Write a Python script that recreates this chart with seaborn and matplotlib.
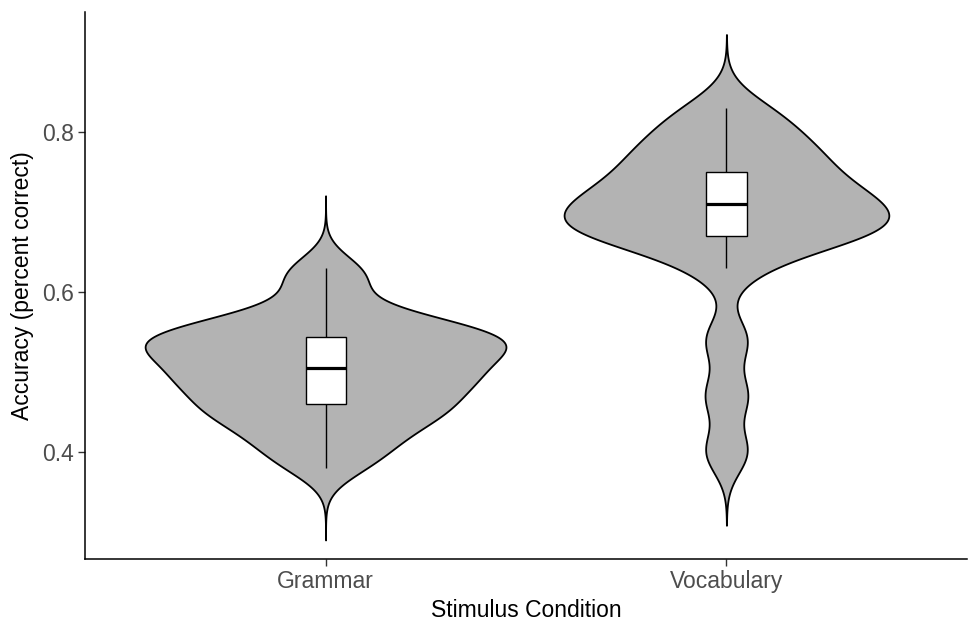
import numpy as np
import pandas as pd
import matplotlib
matplotlib.use("Agg")
import matplotlib.pyplot as plt
import seaborn as sns

# ---- data (accuracy, proportion correct) ----
conditions = ["Grammar", "Vocabulary"]
grammar_acc = [0.38, 0.40, 0.415, 0.43, 0.44, 0.45, 0.46, 0.46, 0.475, 0.485,
               0.49, 0.495, 0.50, 0.51, 0.52, 0.525, 0.53, 0.535, 0.54, 0.545,
               0.55, 0.555, 0.565, 0.575, 0.61, 0.63]
vocabulary_acc = [0.40, 0.47, 0.54, 0.63, 0.66, 0.67, 0.675, 0.68, 0.685, 0.69,
                  0.71, 0.71, 0.715, 0.725, 0.74, 0.75, 0.765, 0.775, 0.79, 0.81, 0.83]
y_ticks = [0.4, 0.6, 0.8]
y_tick_labels = ["0.4", "0.6", "0.8"]

df = pd.DataFrame({
    "condition": ["Grammar"] * len(grammar_acc) + ["Vocabulary"] * len(vocabulary_acc),
    "accuracy": grammar_acc + vocabulary_acc,
})

sns.set_theme(style="white")
plt.rcParams["font.family"] = ["Liberation Sans", "DejaVu Sans"]

# kernel sd, extension (in kernel sds) and max width for each violin
violin_style = {
    "Grammar": dict(sd=0.022, cut=4.1, width=0.9),
    "Vocabulary": dict(sd=0.027, cut=3.4, width=0.81),
}


def make_bw(sd):
    def bw(kde):
        return sd / np.std(kde.dataset, ddof=1)
    return bw


fig = plt.figure(figsize=(9.72, 6.24), dpi=100)
ax = fig.add_axes([85 / 972, 65 / 624, (967 - 85) / 972, (559 - 12) / 624])

for cond in conditions:
    st = violin_style[cond]
    sns.violinplot(data=df[df["condition"] == cond], x="condition", y="accuracy",
                   order=conditions, color="#b3b3b3", saturation=1, inner=None,
                   cut=st["cut"], bw_method=make_bw(st["sd"]), gridsize=600,
                   width=st["width"], density_norm="area",
                   linewidth=1.3, linecolor="black", ax=ax)

sns.boxplot(data=df, x="condition", y="accuracy", order=conditions,
            width=0.1, color="white", saturation=1, showfliers=False,
            showcaps=False, whis=1.5, linewidth=1.0, linecolor="black",
            medianprops={"linewidth": 2.3, "color": "black"}, ax=ax)

ax.set_xlim(-0.6, 1.6)
ax.set_ylim(0.266, 0.95)
ax.set_yticks(y_ticks)
ax.set_yticklabels(y_tick_labels)

for side in ["top", "right"]:
    ax.spines[side].set_visible(False)
for side in ["left", "bottom"]:
    ax.spines[side].set_color("black")
    ax.spines[side].set_linewidth(1.1)

ax.tick_params(axis="both", which="both", direction="out", length=5, width=1.0,
               color="#333333", labelsize=16.5, labelcolor="#4d4d4d", pad=3,
               left=True, bottom=True)

ax.set_xlabel("Stimulus Condition", fontsize=16.5, color="black", labelpad=4)
ax.set_ylabel("Accuracy (percent correct)", fontsize=16.5, color="black", labelpad=6)
ax.grid(False)
ax.set_facecolor("white")
fig.patch.set_facecolor("white")

fig.savefig("out.png", dpi=100)
